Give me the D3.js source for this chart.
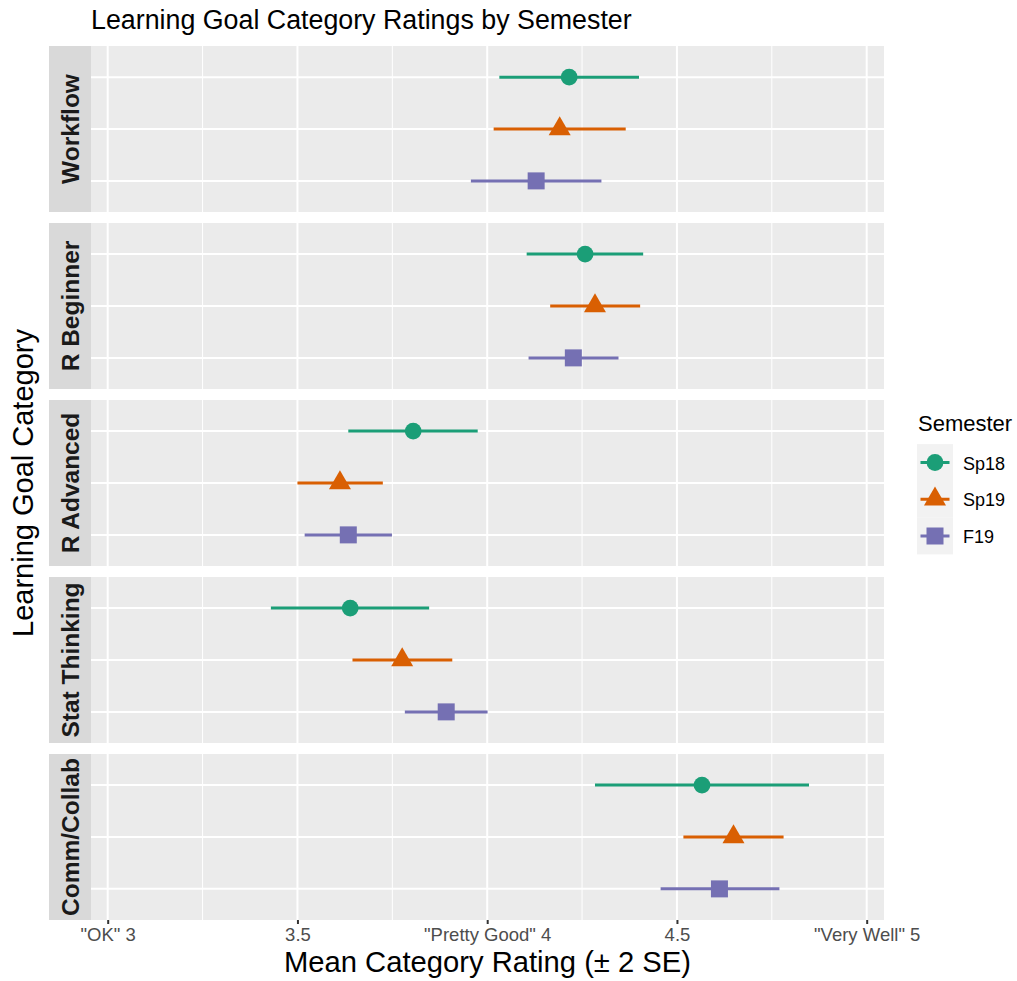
<!DOCTYPE html>
<html>
<head>
<meta charset="utf-8">
<script src="https://cdn.jsdelivr.net/npm/d3@7"></script>
<style>
  html, body { margin: 0; padding: 0; background: #fff; }
  svg { display: block; font-family: "Liberation Sans", Arial, Helvetica, sans-serif; }
</style>
</head>
<body>
<svg id="chart" width="1017" height="981"></svg>
<script>
// Learning goal categories (one facet row each) and semesters (one row within each facet)
const categories = ["Workflow", "R Beginner", "R Advanced", "Stat Thinking", "Comm/Collab"];
const semesters = ["Sp18", "Sp19", "F19"];

// Mean category rating and ±2 SE bounds, per semester, in category order
const meanSp18 = [4.216, 4.258, 3.805, 3.639, 4.566];
const lowSp18  = [4.032, 4.104, 3.634, 3.430, 4.284];
const highSp18 = [4.400, 4.411, 3.975, 3.847, 4.848];

const meanSp19 = [4.191, 4.284, 3.612, 3.776, 4.649];
const lowSp19  = [4.017, 4.166, 3.500, 3.645, 4.517];
const highSp19 = [4.365, 4.403, 3.725, 3.908, 4.781];

const meanF19 = [4.129, 4.227, 3.634, 3.892, 4.612];
const lowF19  = [3.957, 4.109, 3.519, 3.783, 4.457];
const highF19 = [4.301, 4.346, 3.749, 4.001, 4.770];

// X axis ticks and their labels
const tickValues = [3, 3.5, 4, 4.5, 5];
const tickLabels = ['"OK" 3', "3.5", '"Pretty Good" 4', "4.5", '"Very Well" 5'];
const minorTicks = [3.25, 3.75, 4.25, 4.75];

const seriesTable = {
  Sp18: { mean: meanSp18, low: lowSp18, high: highSp18 },
  Sp19: { mean: meanSp19, low: lowSp19, high: highSp19 },
  F19:  { mean: meanF19,  low: lowF19,  high: highF19 }
};

const rows = [];
categories.forEach((cat, i) => {
  semesters.forEach(sem => {
    rows.push({
      category: cat, semester: sem,
      mean: seriesTable[sem].mean[i],
      low: seriesTable[sem].low[i],
      high: seriesTable[sem].high[i]
    });
  });
});

const color = d3.scaleOrdinal().domain(semesters).range(["#1B9E77", "#D95F02", "#7570B3"]);
const shape = d3.scaleOrdinal().domain(semesters).range([d3.symbolCircle, d3.symbolTriangle, d3.symbolSquare]);
const shapeSize = d3.scaleOrdinal().domain(semesters).range([222, 210, 289]);
const symbolPath = sem => d3.symbol().type(shape(sem)).size(shapeSize(sem))();

const svg = d3.select("#chart");

const panelLeft = 91, panelRight = 884;
const x = d3.scaleLinear().domain([2.956, 5.0456]).range([panelLeft, panelRight]);

const facet = d3.scaleBand().domain(categories).range([46, 920]).paddingInner(0.0621).paddingOuter(0);
const y = d3.scalePoint().domain(semesters).range([0, facet.bandwidth()]).padding(0.6);

// Title
svg.append("text")
  .attr("x", panelLeft).attr("y", 29)
  .attr("font-size", 26.8).attr("fill", "#000")
  .text("Learning Goal Category Ratings by Semester");

// Facet panels
categories.forEach(cat => {
  const g = svg.append("g").attr("transform", `translate(0,${facet(cat)})`);
  const h = facet.bandwidth();

  g.append("rect")
    .attr("x", panelLeft).attr("y", 0)
    .attr("width", panelRight - panelLeft).attr("height", h)
    .attr("fill", "#EBEBEB");

  g.selectAll(".minor").data(minorTicks).join("line")
    .attr("x1", d => x(d)).attr("x2", d => x(d))
    .attr("y1", 0).attr("y2", h)
    .attr("stroke", "#fff").attr("stroke-width", 1);

  g.selectAll(".majorx").data(tickValues).join("line")
    .attr("x1", d => x(d)).attr("x2", d => x(d))
    .attr("y1", 0).attr("y2", h)
    .attr("stroke", "#fff").attr("stroke-width", 2);

  g.selectAll(".majory").data(semesters).join("line")
    .attr("x1", panelLeft).attr("x2", panelRight)
    .attr("y1", d => y(d)).attr("y2", d => y(d))
    .attr("stroke", "#fff").attr("stroke-width", 2);

  // Strip on the left
  g.append("rect")
    .attr("x", 49).attr("y", 0)
    .attr("width", panelLeft - 49).attr("height", h)
    .attr("fill", "#D9D9D9");
  g.append("text")
    .attr("transform", `translate(79,${h / 2}) rotate(-90)`)
    .attr("text-anchor", "middle")
    .attr("font-size", 24.5).attr("font-weight", "bold").attr("fill", "#1A1A1A")
    .text(cat);

  const data = rows.filter(r => r.category === cat);

  g.selectAll(".err").data(data).join("line")
    .attr("x1", d => x(d.low)).attr("x2", d => x(d.high))
    .attr("y1", d => y(d.semester)).attr("y2", d => y(d.semester))
    .attr("stroke", d => color(d.semester)).attr("stroke-width", 3);

  g.selectAll(".pt").data(data).join("path")
    .attr("transform", d => `translate(${x(d.mean)},${y(d.semester)})`)
    .attr("d", d => symbolPath(d.semester))
    .attr("fill", d => color(d.semester));
});

// X axis
const xAxis = d3.axisBottom(x).tickValues(tickValues)
  .tickFormat((d, i) => tickLabels[i]).tickSize(4).tickPadding(4);
const axG = svg.append("g").attr("transform", "translate(0,920)").call(xAxis);
axG.select(".domain").remove();
axG.selectAll(".tick line").attr("stroke", "#333333").attr("stroke-width", 2);
axG.selectAll(".tick text")
  .attr("font-size", 18.5).attr("fill", "#4D4D4D")
  .attr("font-family", "'Liberation Sans', Arial, Helvetica, sans-serif");

// Axis titles
svg.append("text")
  .attr("x", (panelLeft + panelRight) / 2).attr("y", 972)
  .attr("text-anchor", "middle").attr("font-size", 29.2).attr("fill", "#000")
  .text("Mean Category Rating (± 2 SE)");

svg.append("text")
  .attr("transform", `translate(33,${(46 + 920) / 2}) rotate(-90)`)
  .attr("text-anchor", "middle").attr("font-size", 29).attr("fill", "#000")
  .text("Learning Goal Category");

// Legend
const legend = svg.append("g").attr("transform", "translate(917,0)");
legend.append("text")
  .attr("x", 1).attr("y", 431)
  .attr("font-size", 22).attr("fill", "#000")
  .text("Semester");

const keyY = d3.scalePoint().domain(semesters).range([462.5, 536]);
const keys = legend.selectAll(".key").data(semesters).join("g")
  .attr("transform", d => `translate(0,${keyY(d)})`);
keys.append("rect")
  .attr("x", 0).attr("y", -18.4).attr("width", 36).attr("height", 36.8)
  .attr("fill", "#F2F2F2");
keys.append("line")
  .attr("x1", 3.5).attr("x2", 32.5).attr("y1", 0).attr("y2", 0)
  .attr("stroke", d => color(d)).attr("stroke-width", 3);
keys.append("path")
  .attr("transform", "translate(18,0)")
  .attr("d", d => symbolPath(d))
  .attr("fill", d => color(d));
keys.append("text")
  .attr("x", 46).attr("y", 7)
  .attr("font-size", 18).attr("fill", "#000")
  .text(d => d);
</script>
</body>
</html>
